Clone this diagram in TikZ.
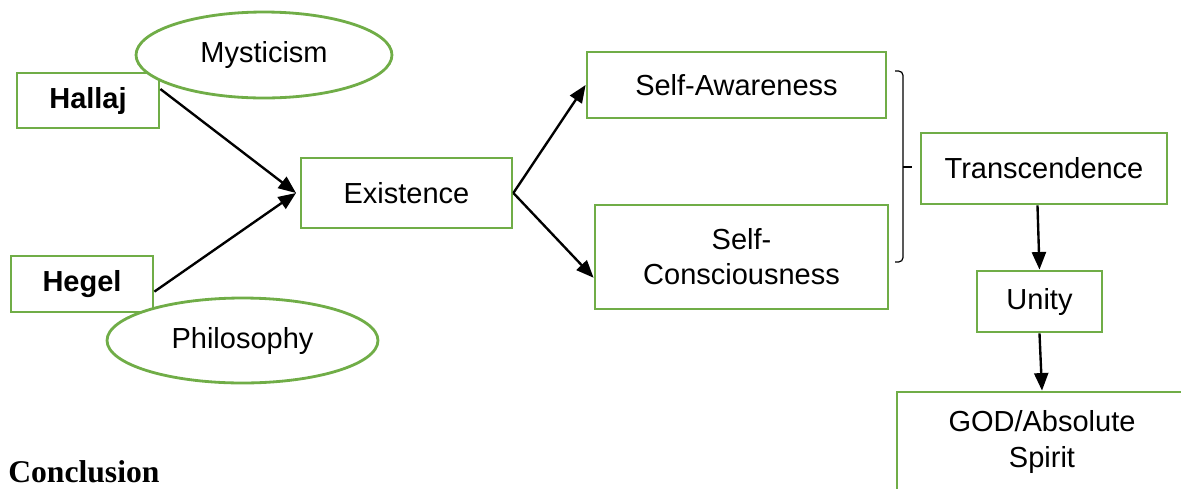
\documentclass[tikz,border=0pt]{standalone}
\usepackage{fontspec}
\setmainfont{Liberation Sans}
\newfontfamily\timesfont{Liberation Serif}
\usetikzlibrary{arrows.meta,shapes.geometric}
\definecolor{wordgreen}{RGB}{112,173,71}
\begin{document}
\begin{tikzpicture}[x=0.02cm,y=-0.02cm,
    font=\fontsize{16.5}{20}\selectfont,
    box/.style={draw=wordgreen,line width=1.6pt,fill=white,align=center,inner sep=0pt},
    oval/.style={ellipse,draw=wordgreen,line width=1.6pt,fill=white,inner sep=0pt},
    arr/.style={line width=1.35pt,-{Triangle[length=10pt,width=8pt]}}]
    \clip (0,0) rectangle (1181,488);
    \node[box,minimum width=2.84cm,minimum height=1.1cm] (hal) at (88,100.5) {\textbf{Hallaj}};
    \node[oval,minimum width=5.12cm,minimum height=1.72cm] (mys) at (264,55) {Mysticism};
    \node[box,minimum width=2.84cm,minimum height=1.12cm] (heg) at (82,284) {\textbf{Hegel}};
    \node[oval,minimum width=5.42cm,minimum height=1.7cm] (phi) at (242.5,340.5) {Philosophy};
    \node[box,minimum width=4.22cm,minimum height=1.4cm] (ext) at (406.5,193) {Existence};
    \node[box,minimum width=5.98cm,minimum height=1.32cm] (saw) at (736.5,85) {Self-Awareness};
    \node[box,minimum width=5.86cm,minimum height=2.08cm] (sco) at (741.5,257) {Self-\\Consciousness};
    \node[box,minimum width=4.92cm,minimum height=1.42cm] (tra) at (1044,168.5) {Transcendence};
    \node[box,minimum width=2.5cm,minimum height=1.22cm] (uni) at (1039.5,301.5) {Unity};
    \node[box,minimum width=5.8cm,minimum height=2cm] (god) at (1042,442) {GOD/Absolute\\Spirit};
    \node[anchor=base west,inner sep=0pt,font=\timesfont\fontsize{18}{20}\selectfont\bfseries] (concl) at (8,482) {Conclusion};
    \coordinate (meet) at (296,193);
    \coordinate (btop) at (895,71);
    \coordinate (bmid) at (912,167);
    \coordinate (bbot) at (895,262);
    \draw[arr] (hal.9) -- (meet);
    \draw[arr] (heg.-6) -- (meet);
    \draw[arr] (ext.east) -- (saw.west);
    \draw[arr] (ext.east) -- (sco.188);
    \draw[line width=0.7pt,rounded corners=2.5pt] (btop) -- ++(8,0) -- (903,262) -- (bbot);
    \draw[line width=0.7pt] (903,167) -- (bmid);
    \draw[arr] (tra.-100) -- (uni.north);
    \draw[arr] (uni.south) -- (god.north);
\end{tikzpicture}
\end{document}
